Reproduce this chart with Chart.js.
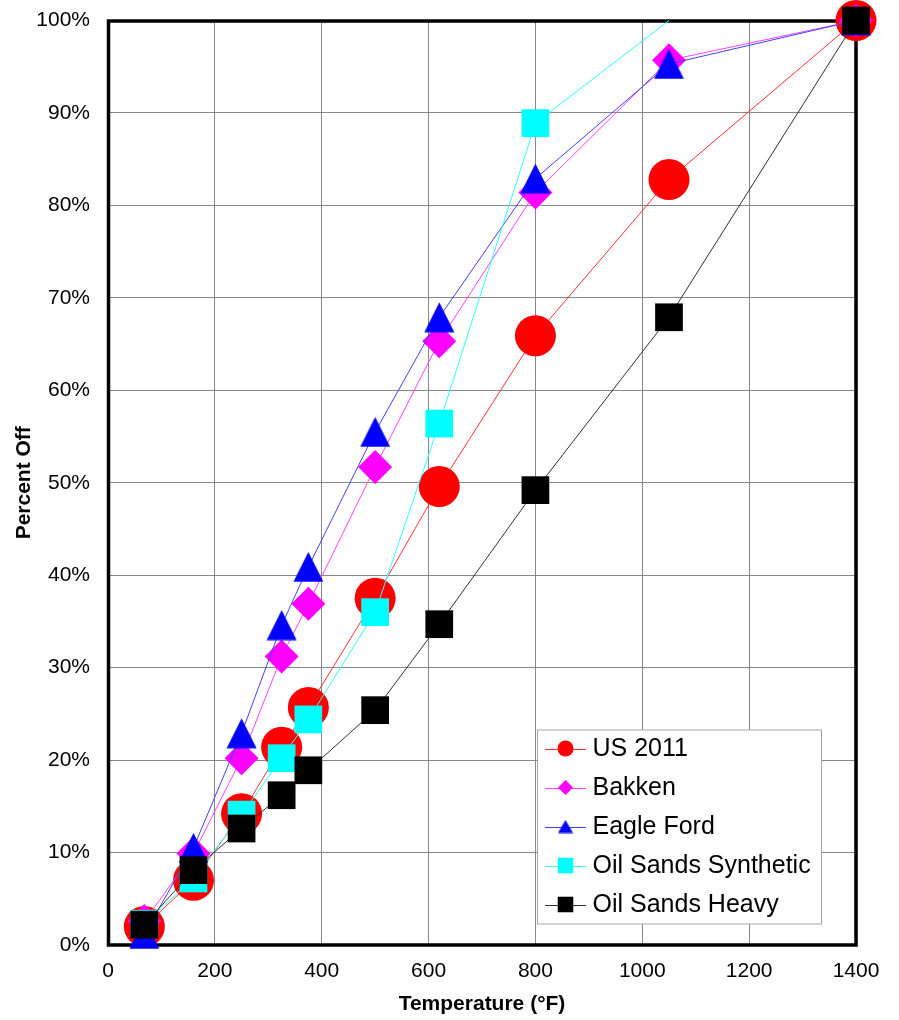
<!DOCTYPE html>
<html>
<head>
<meta charset="utf-8">
<script src="https://cdn.jsdelivr.net/npm/chart.js@4/dist/chart.umd.min.js"></script>
<style>
  html, body { margin: 0; padding: 0; background: #ffffff; }
  #wrap { width: 899px; height: 1020px; }
  canvas { display: block; }
</style>
</head>
<body>
<div id="wrap"><canvas id="chart" width="899" height="1020"></canvas></div>
<script>
// Distillation temperature (°F) for each cut point
const temperatureF = [68, 160, 250, 325, 375, 500, 620, 800, 1050, 1400];

// Cumulative percent distilled off at each temperature
const us2011            = [2.0, 7.0, 14.2, 21.4, 25.7, 37.5, 49.6, 65.9, 82.8, 100];
const bakken            = [2.6, 9.9, 20.2, 31.2, 36.9, 51.7, 65.3, 81.4, 95.7, 100];
const eagleFord         = [1.2, 10.5, 22.9, 34.6, 40.9, 55.5, 67.9, 82.9, 95.3, 100];
const oilSandsSynthetic = [2.3, 7.2, 14.1, 20.2, 24.4, 36.0, 56.4, 88.9, 100, null];
const oilSandsHeavy     = [2.2, 8.1, 12.6, 16.2, 18.9, 25.4, 34.7, 49.2, 67.9, 100];

const seriesNames = ['US 2011', 'Bakken', 'Eagle Ford', 'Oil Sands Synthetic', 'Oil Sands Heavy'];

const FONT = '"Liberation Sans", Arial, Helvetica, sans-serif';

// Isosceles triangle marker drawn into its own small canvas
function triangleMarker(w, h, color) {
  const c = document.createElement('canvas');
  c.width = w; c.height = h;
  const g = c.getContext('2d');
  g.fillStyle = color;
  g.beginPath();
  g.moveTo(w / 2, 0.5);
  g.lineTo(w - 0.5, h - 0.5);
  g.lineTo(0.5, h - 0.5);
  g.closePath();
  g.fill();
  return c;
}
const bigTriangle = triangleMarker(31, 31, '#0000ff');
const smallTriangle = triangleMarker(16, 14, '#0000ff');

function points(values) {
  return temperatureF.map((t, i) => ({ x: t, y: values[i] }));
}

const datasets = [
  { label: seriesNames[0], data: points(us2011), borderColor: '#ff3030', backgroundColor: '#ff0000',
    pointStyle: 'circle', pointRadius: 20.5, order: 5, legendMarker: { style: 'circle', r: 8 } },
  { label: seriesNames[1], data: points(bakken), borderColor: '#ff40ff', backgroundColor: '#ff00ff',
    pointStyle: 'rectRot', pointRadius: 17, order: 4, legendMarker: { style: 'rectRot', r: 7.5 } },
  { label: seriesNames[2], data: points(eagleFord), borderColor: '#4040ff', backgroundColor: '#0000ff',
    pointStyle: bigTriangle, pointRadius: 17, order: 3, legendMarker: { style: 'image', img: smallTriangle } },
  { label: seriesNames[3], data: points(oilSandsSynthetic), borderColor: '#30ffff', backgroundColor: '#00ffff',
    pointStyle: 'rect', pointRadius: oilSandsSynthetic.map(v => v >= 100 ? 0 : 19.6), order: 2,
    legendMarker: { style: 'rect', r: 11 } },
  { label: seriesNames[4], data: points(oilSandsHeavy), borderColor: '#303030', backgroundColor: '#000000',
    pointStyle: 'rect', pointRadius: 19.6, order: 1, legendMarker: { style: 'rect', r: 11 } }
].map(d => Object.assign({
  showLine: true,
  borderWidth: 1,
  pointBorderWidth: 0,
  pointBorderColor: d.backgroundColor,
  pointBackgroundColor: d.backgroundColor,
  pointHoverRadius: d.pointRadius,
  clip: false,
  spanGaps: false
}, d));

// Heavy black frame round the plot area, under the series
const framePlugin = {
  id: 'frame',
  beforeDatasetsDraw(chart) {
    const { ctx, chartArea: a } = chart;
    ctx.save();
    ctx.strokeStyle = '#000000';
    ctx.lineWidth = 3.5;
    ctx.strokeRect(a.left + 0.5, a.top + 0.5, a.right - a.left - 0.5, a.bottom - a.top - 0.5);
    ctx.restore();
  }
};

function drawMarker(ctx, m, x, y, color) {
  ctx.fillStyle = color;
  ctx.beginPath();
  if (m.style === 'circle') {
    ctx.arc(x, y, m.r, 0, Math.PI * 2);
  } else if (m.style === 'rectRot') {
    ctx.moveTo(x, y - m.r); ctx.lineTo(x + m.r, y); ctx.lineTo(x, y + m.r); ctx.lineTo(x - m.r, y);
    ctx.closePath();
  } else if (m.style === 'rect') {
    const s = m.r * Math.SQRT1_2;
    ctx.rect(x - s, y - s, 2 * s, 2 * s);
  } else if (m.style === 'image') {
    ctx.drawImage(m.img, x - m.img.width / 2, y - m.img.height / 2);
    return;
  }
  ctx.fill();
}

// Boxed legend sitting inside the lower right of the plot
const boxLegendPlugin = {
  id: 'boxLegend',
  afterDatasetsDraw(chart) {
    const { ctx, chartArea: a } = chart;
    const left = a.left + 429.5, top = a.top + 709.5, w = 284, h = 194;
    ctx.save();
    ctx.fillStyle = '#ffffff';
    ctx.fillRect(left, top, w, h);
    ctx.strokeStyle = '#a6a6a6';
    ctx.lineWidth = 1;
    ctx.strokeRect(left, top, w, h);
    ctx.font = '25px ' + FONT;
    ctx.textBaseline = 'middle';
    ctx.textAlign = 'left';
    chart.data.datasets.forEach((ds, i) => {
      const y = top + 18.5 + i * 39;
      ctx.strokeStyle = ds.borderColor;
      ctx.lineWidth = 1;
      ctx.beginPath();
      ctx.moveTo(left + 7.5, Math.round(y) + 0.5);
      ctx.lineTo(left + 48.5, Math.round(y) + 0.5);
      ctx.stroke();
      drawMarker(ctx, ds.legendMarker, left + 28, y, ds.backgroundColor);
      ctx.fillStyle = '#000000';
      ctx.fillText(ds.label, left + 55, y + 1);
    });
    ctx.restore();
  }
};

new Chart(document.getElementById('chart'), {
  type: 'scatter',
  data: { datasets },
  options: {
    responsive: false,
    devicePixelRatio: 1,
    animation: false,
    events: [],
    layout: { padding: { left: 0, top: 19, right: 43, bottom: 0 } },
    plugins: {
      legend: { display: false },
      tooltip: { enabled: false }
    },
    scales: {
      x: {
        type: 'linear',
        min: 0, max: 1400,
        afterFit(scale) { scale.height = 75; },
        grid: { color: '#888888', lineWidth: 1, drawTicks: false },
        border: { display: false },
        ticks: { stepSize: 200, padding: 14, color: '#000000', font: { family: FONT, size: 21 },
                 callback: v => String(v) },
        title: { display: true, text: 'Temperature (°F)', color: '#000000',
                 font: { family: FONT, size: 21, weight: 'bold' }, padding: { top: 0, bottom: 3 } }
      },
      y: {
        type: 'linear',
        min: 0, max: 100,
        afterFit(scale) {
          scale.width = 108;
          scale.paddingTop = 0;
          scale.paddingBottom = 0;
        },
        grid: { color: '#888888', lineWidth: 1, drawTicks: false },
        border: { display: false },
        ticks: { stepSize: 10, padding: 18, color: '#000000', font: { family: FONT, size: 21 },
                 callback: v => v + '%' },
        title: { display: true, text: 'Percent Off', color: '#000000',
                 font: { family: FONT, size: 21, weight: 'bold' }, padding: { top: 12, bottom: 0 } }
      }
    }
  },
  plugins: [framePlugin, boxLegendPlugin]
});
</script>
</body>
</html>
